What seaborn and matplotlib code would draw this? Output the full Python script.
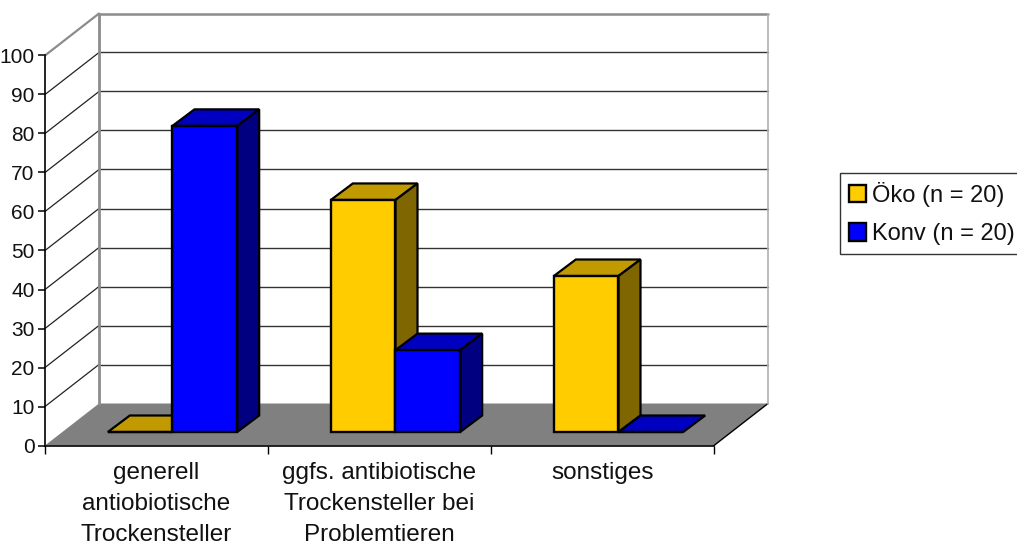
import matplotlib
matplotlib.use("Agg")
import matplotlib.pyplot as plt
import pandas as pd
import seaborn as sns
from matplotlib.lines import Line2D
from matplotlib.patches import Polygon
from matplotlib.transforms import Affine2D, IdentityTransform

categories = ["generell\nantiobiotische\nTrockensteller",
              "ggfs. antibiotische\nTrockensteller bei\nProblemtieren",
              "sonstiges"]
series_names = ["Öko (n = 20)", "Konv (n = 20)"]
oeko_values = [0, 59.5, 40]
konv_values = [78.5, 21, 0]
y_ticks = list(range(0, 101, 10))

front_colors = ["#FFCC00", "#0000FF"]
top_colors = ["#C09A00", "#0000C0"]
side_colors = ["#806600", "#000080"]

sns.set_style("white")
plt.rcParams["font.family"] = ["Liberation Sans", "DejaVu Sans"]

df = pd.DataFrame({
    "Kategorie": categories * 2,
    "Gruppe": [series_names[0]] * 3 + [series_names[1]] * 3,
    "Wert": oeko_values + konv_values,
})

W, H = 1017, 545
fig = plt.figure(figsize=(W / 100, H / 100), dpi=100, facecolor="white")
ax = fig.add_axes([45 / W, (H - 445.5) / H, 669 / W, 390 / H])
ax.patch.set_alpha(0)

sns.barplot(data=df, x="Kategorie", y="Wert", hue="Gruppe", order=categories,
            hue_order=series_names, palette=front_colors, width=0.58, gap=0,
            dodge=True, edgecolor="black", linewidth=1.7, saturation=1,
            errorbar=None, ax=ax)
ax.set_xlim(-0.5, 2.5)
ax.set_ylim(0, 100)
ax.set_xlabel("")
ax.set_ylabel("")

WALL = (54, 42)     # depth of the chart box, pixels
BASE = (16, 13.5)   # where the bars stand on the floor
BAR = (22, 16.5)    # depth of a bar


def pt(x, y, off=(0, 0)):
    px, py = ax.transData.transform((x, y))
    return (px + off[0], py + off[1])


def poly(points, fc, ec="black", lw=1.2, z=1):
    ax.add_patch(Polygon(points, closed=True, facecolor=fc, edgecolor=ec, linewidth=lw,
                         transform=IdentityTransform(), clip_on=False, zorder=z,
                         joinstyle="miter"))


def line(a, b, color, lw, z):
    ax.add_line(Line2D([a[0], b[0]], [a[1], b[1]], color=color, linewidth=lw,
                       transform=IdentityTransform(), clip_on=False, zorder=z))


x0, x1 = -0.5, 2.5
# floor
poly([pt(x0, 0), pt(x1, 0), pt(x1, 0, WALL), pt(x0, 0, WALL)], "#808080", ec="none", z=0.5)
line(pt(x1, 0), pt(x1, 0, WALL), "black", 1.0, 0.6)
# walls and grid
for v in y_ticks[1:-1]:
    line(pt(x0, v, WALL), pt(x1, v, WALL), "#333333", 1.0, 0.7)
    line(pt(x0, v), pt(x0, v, WALL), "#222222", 0.9, 0.7)
line(pt(x0, 100), pt(x0, 100, WALL), "#8c8c8c", 1.6, 0.8)
line(pt(x0, 100, WALL), pt(x1, 100, WALL), "#8c8c8c", 1.8, 0.8)
line(pt(x0, 0, WALL), pt(x0, 100, WALL), "#8c8c8c", 2.0, 0.8)
line(pt(x1, 0, WALL), pt(x1, 100, WALL), "#b0b0b0", 1.2, 0.8)

# bars: fronts come from seaborn, tops and sides follow from their size
order = []
for s, cont in enumerate(ax.containers):
    for c, bar in enumerate(cont):
        order.append((c, s, bar))
shift = Affine2D().translate(*BASE)
for c, s, bar in sorted(order, key=lambda t: (t[0], t[1])):
    z = 2 + c * 2 + s * 0.5
    xa, xb = bar.get_x(), bar.get_x() + bar.get_width()
    v = bar.get_height()
    bar.set_transform(ax.transData + shift)
    bar.set_clip_on(False)
    bar.set_zorder(z + 0.2)
    back = (BASE[0] + BAR[0], BASE[1] + BAR[1])
    poly([pt(xa, v, BASE), pt(xb, v, BASE), pt(xb, v, back), pt(xa, v, back)],
         top_colors[s], lw=1.6, z=z)
    if v > 0:
        poly([pt(xb, 0, BASE), pt(xb, 0, back), pt(xb, v, back), pt(xb, v, BASE)],
             side_colors[s], lw=1.6, z=z)

# axes
sns.despine(ax=ax, top=True, right=True)
for side in ("left", "bottom"):
    ax.spines[side].set_color("black")
    ax.spines[side].set_linewidth(1.2)
    ax.spines[side].set_zorder(1.5)
ax.set_yticks(y_ticks)
ax.tick_params(axis="y", left=True, length=5, width=1.1, color="black", pad=2.5,
               labelsize=15, labelcolor="#111111")
ax.set_xticks([x0, 0.5, 1.5, x1], minor=True)
ax.tick_params(axis="x", which="minor", bottom=True, length=6, width=1.0, color="black")
ax.tick_params(axis="x", which="major", bottom=False, length=0, pad=12,
               labelsize=17.5, labelcolor="#111111")
for lab in ax.get_xticklabels():
    lab.set_linespacing(1.53)

# legend
sns.move_legend(ax, loc="upper left", bbox_to_anchor=(840 / W, 1 - 173 / H),
                bbox_transform=fig.transFigure, title=None, frameon=True, fancybox=False,
                framealpha=1, edgecolor="#333333", borderaxespad=0, fontsize=17,
                handlelength=0.74, handleheight=0.74, handletextpad=0.25,
                labelspacing=0.69, borderpad=0.38)
ax.get_legend().get_frame().set_linewidth(1.0)
for text in ax.get_legend().get_texts():
    text.set_color("#111111")

fig.savefig("out.png", dpi=100)
